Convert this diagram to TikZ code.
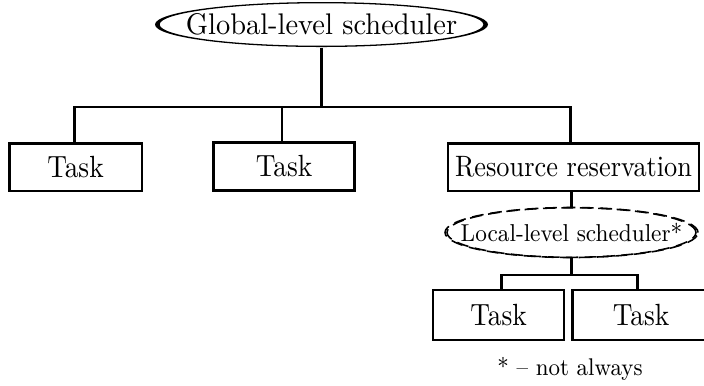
\documentclass[tikz,border=0pt]{standalone}
\usetikzlibrary{shapes.geometric}
\newcommand\tall[1]{\scalebox{1}[1.12]{#1}}
\begin{document}
\begin{tikzpicture}[x=0.38pt, y=-0.38pt,
  conn/.style={line width=1.1pt},
  taskbox/.style={draw, line width=1.1pt, rectangle, inner sep=0pt,
    minimum height=18.2pt, font=\fontsize{10.4}{12}\selectfont},
  sched/.style={ellipse, inner sep=0pt},
  dashring/.style={line width=0.6pt, dash pattern=on 4.5pt off 2.5pt}
]
\useasboundingbox (0,0) rectangle (704,385);

% global scheduler
\node[sched, minimum width=126.5pt, minimum height=17.1pt,
      font=\fontsize{10.8}{13}\selectfont] (g) at (321.5,24.5) {\scalebox{1}[1.05]{Global-level scheduler}};
\fill[even odd rule] (g.center) ellipse [x radius=63.27pt, y radius=8.55pt]
                     (g.center) ellipse [x radius=61.5pt, y radius=8.06pt];

% first level
\node[taskbox, minimum width=50.5pt] (t1) at (75.5,167) {\tall{Task}};
\node[taskbox, minimum width=53.6pt] (t2) at (284,166.5) {\tall{Task}};
\node[taskbox, minimum width=95.4pt, font=\fontsize{10}{12}\selectfont] (rr) at (573.5,167) {\tall{Resource reservation}};

\coordinate (j0) at (321.5,107);
\draw[conn] (g.south) -- (j0);
\draw[conn] ([xshift=-0.55pt]t1.north) |- (j0);
\draw[conn] ([xshift=-0.75pt]t2.north) |- (j0);
\draw[conn] ([xshift=-1.3pt]rr.north) |- (j0);

% local scheduler
\node[sched, minimum width=96.1pt, minimum height=19pt,
      font=\fontsize{8.6}{10}\selectfont] (l) at (571.5,232.5) {\scalebox{1}[1.08]{Local-level scheduler*}};
\draw[dashring] (l.center) ellipse [x radius=48.07pt, y radius=9.5pt];
\draw[dashring] (l.center) ellipse [x radius=47.3pt, y radius=9.42pt];
\draw[conn] (l.north |- rr.south) -- (l.north);

% second level (the right box runs past the page edge)
\node[taskbox, minimum width=49.8pt, minimum height=19pt] (t3) at (498.5,315) {\tall{Task}};
\node[taskbox, minimum width=52.4pt, minimum height=19pt] (t4) at (641,315) {\tall{Task}};

\coordinate (j1) at (571.5,275);
\draw[conn] (l.south) -- (j1);
\draw[conn] ([xshift=1pt]t3.north) |- (j1);
\draw[conn] ([xshift=-1.2pt]t4.north) |- (j1);

% footnote
\node[font=\fontsize{8.5}{10}\selectfont] (fn) at (570,369) {\scalebox{1}[1.08]{* -- not always}};
\end{tikzpicture}
\end{document}
